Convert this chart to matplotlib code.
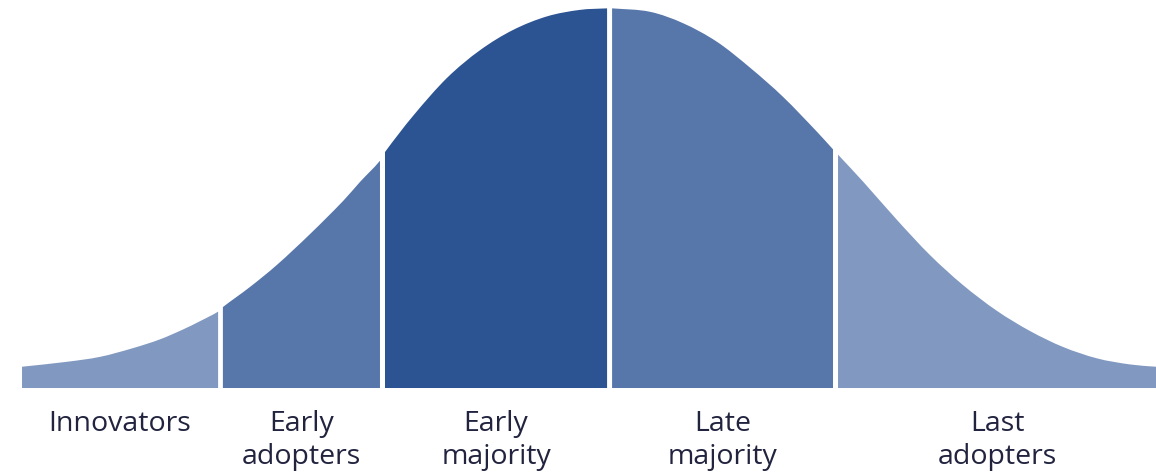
import matplotlib
matplotlib.use("Agg")
import matplotlib.pyplot as plt
from matplotlib.path import Path
from matplotlib.patches import PathPatch

# Adoption curve.
# x: position in standard deviations from the mean, h: height in % of peak
seg_names = ["Innovators", "Early\nadopters", "Early\nmajority", "Late\nmajority", "Last\nadopters"]
seg_colors = ["#8199c1", "#5776aa", "#2d5492", "#5776aa", "#8199c1"]

innov_x = [-2.535, -2.338, -2.193, -2.048, -1.930, -1.829, -1.754, -1.675]
innov_h = [5.6, 6.9, 8.2, 10.5, 12.8, 15.4, 17.6, 20.1]

early_ad_x = [-1.654, -1.535, -1.417, -1.272, -1.127, -1.053, -0.965]
early_ad_h = [21.3, 26.6, 32.4, 40.5, 49.2, 54.2, 59.8]

early_maj_x = [-0.943, -0.820, -0.671, -0.526, -0.382, -0.232, -0.088, 0.031]
early_maj_h = [62.1, 71.6, 81.6, 88.9, 94.2, 97.8, 99.5, 99.9]

late_maj_x = [0.053, 0.219, 0.364, 0.513, 0.658, 0.803, 0.952, 1.022]
late_maj_h = [99.9, 99.0, 96.0, 91.1, 84.3, 76.6, 67.4, 62.8]

last_ad_x = [1.044, 1.154, 1.303, 1.447, 1.592, 1.741, 1.886, 2.031, 2.180, 2.325, 2.439]
last_ad_h = [61.4, 54.3, 44.2, 35.0, 27.1, 20.3, 15.0, 10.8, 7.8, 6.2, 5.6]

segments_x = [innov_x, early_ad_x, early_maj_x, late_maj_x, last_ad_x]
segments_h = [innov_h, early_ad_h, early_maj_h, late_maj_h, last_ad_h]

# slopes at each read point, from neighbouring read points along the whole curve
all_x = [v for s in segments_x for v in s]
all_h = [v for s in segments_h for v in s]
n = len(all_x)
slopes = []
for i in range(n):
    a = max(i - 1, 0)
    b = min(i + 1, n - 1)
    slopes.append((all_h[b] - all_h[a]) / (all_x[b] - all_x[a]))

fig = plt.figure(figsize=(11.56, 4.72), dpi=100)
ax = fig.add_axes([0, 0, 1, 1])
ax.set_xlim(-2.6316, 2.4386)
ax.set_ylim(-22.1, 102.1)
ax.axis("off")

start = 0
for xs, hs, col, name in zip(segments_x, segments_h, seg_colors, seg_names):
    m = slopes[start:start + len(xs)]
    start += len(xs)
    verts = [(xs[0], 0), (xs[0], hs[0])]
    codes = [Path.MOVETO, Path.LINETO]
    for i in range(len(xs) - 1):
        dx = xs[i + 1] - xs[i]
        verts += [(xs[i] + dx / 3, hs[i] + m[i] * dx / 3),
                  (xs[i + 1] - dx / 3, hs[i + 1] - m[i + 1] * dx / 3),
                  (xs[i + 1], hs[i + 1])]
        codes += [Path.CURVE4] * 3
    verts += [(xs[-1], 0), (xs[0], 0)]
    codes += [Path.LINETO, Path.CLOSEPOLY]
    ax.add_patch(PathPatch(Path(verts, codes), facecolor=col, edgecolor="none"))
    cx = (xs[0] + xs[-1]) / 2
    ax.text(cx, -5.9, name, ha="center", va="top", fontsize=20.5,
            family=["Open Sans", "DejaVu Sans"], color="#22243f",
            linespacing=1.2)

fig.savefig("out.png", dpi=100)
